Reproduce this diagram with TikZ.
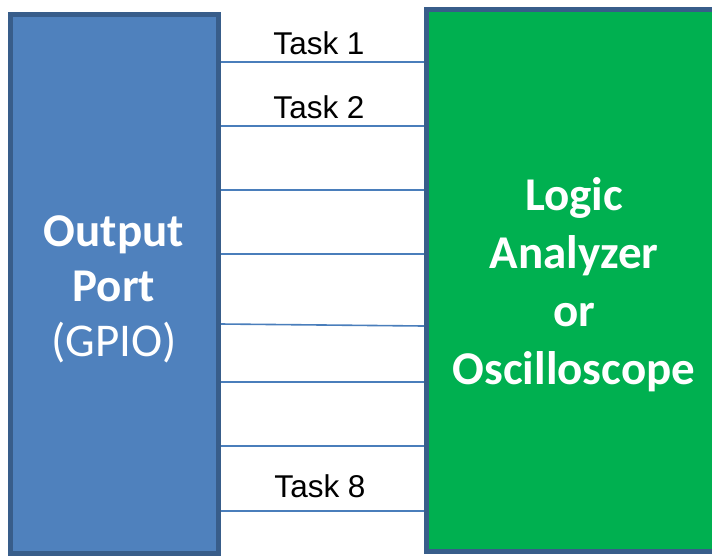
\documentclass[tikz,border=0pt]{standalone}
\usepackage{fontspec}
\setmainfont{Liberation Sans}
\newfontfamily\calibri{Carlito}
\usetikzlibrary{positioning}
\definecolor{portblue}{HTML}{4F81BD}
\definecolor{edgeblue}{HTML}{385D8A}
\definecolor{scopegreen}{HTML}{00B050}
\definecolor{wireblue}{HTML}{4A7EBB}

\begin{document}
\begin{tikzpicture}[x=1pt,y=-1pt,
    box/.style={draw=edgeblue,line width=5pt,inner sep=0pt},
    wire/.style={wireblue,line width=1.6pt},
    bigtext/.style={text=white,align=center,inner sep=0pt},
    task/.style={font=\fontsize{31.5}{36}\selectfont,anchor=base}]
    \useasboundingbox (0,0) rectangle (712,558);
    % the two boxes
    \node[box,fill=portblue,minimum width=208pt,minimum height=539pt] (port) at (114.5,284) {};
    \node[box,fill=scopegreen,minimum width=290pt,minimum height=542pt] (scope) at (571.5,280.5) {};
    \node[bigtext,font=\calibri\fontsize{47}{55}\selectfont] (porttext) at (114,289)
        {\textbf{Output}\\\textbf{Port}\\(GPIO)};
    \node[bigtext,font=\calibri\bfseries\fontsize{47}{58}\selectfont] (scopetext) at (574,285)
        {Logic\\Analyzer\\or\\Oscilloscope};
    % the eight wires
    \foreach \ya/\yb in {62/62,126/126,190/190,254/254,324/326,382/382,446/446,511/511}
        \draw[wire] (port.east |- 0,\ya) -- (scope.west |- 0,\yb);
    \node[task] (t1) at (319,54) {Task 1};
    \node[task] (t2) at (319,118) {Task 2};
    \node[task] (t8) at (320,497) {Task 8};
\end{tikzpicture}
\end{document}
